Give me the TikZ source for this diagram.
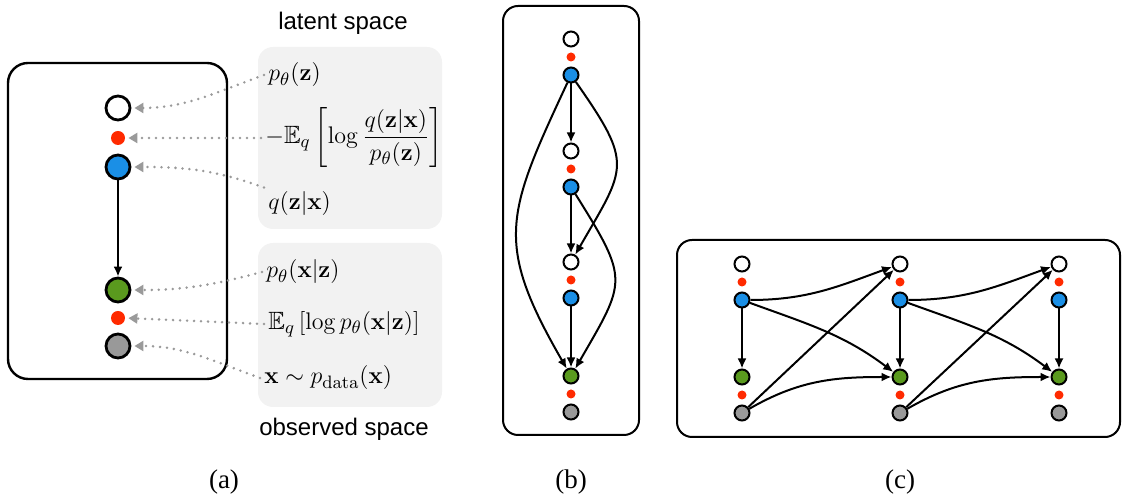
\documentclass[tikz,border=0pt]{standalone}
\usepackage{amssymb}
\usepackage[no-math]{fontspec}
\newfontfamily\labelfont{Liberation Sans}
\newfontfamily\capfont{Liberation Serif}
\usetikzlibrary{arrows.meta}
\definecolor{zblue}{HTML}{1A8FE6}
\definecolor{dotred}{HTML}{FF2A00}
\definecolor{xgreen}{HTML}{5A9A1E}
\definecolor{xgray}{HTML}{999999}
\definecolor{hintgray}{HTML}{9A9A9A}
\definecolor{panelgray}{HTML}{F2F2F2}
\tikzset{
  vert/.style    = {circle, draw=black, line width=1pt, minimum size=7.5pt, inner sep=0pt},
  dot/.style     = {circle, fill=dotred, minimum size=4.5pt, inner sep=0pt},
  bigvert/.style = {vert, line width=1.4pt, minimum size=12pt},
  bigdot/.style  = {dot, minimum size=7pt},
  link/.style    = {-{Latex[length=5pt,width=4.5pt]}, line width=1pt},
  hint/.style    = {-{Triangle[length=4.5pt,width=5pt]}, hintgray, line width=1.4pt,
                    line cap=round, dash pattern=on 0pt off 3.5pt, shorten >=1.5pt},
  frame/.style   = {draw, line width=1.2pt, rounded corners=10pt},
  thinframe/.style = {draw, line width=1pt, rounded corners=7.5pt},
  panel/.style   = {fill=panelgray, rounded corners=7.5pt},
  formula/.style = {anchor=west, inner sep=2pt, font=\fontsize{12.5}{14}\selectfont},
  labeltext/.style = {font=\labelfont\fontsize{12}{14}\selectfont},
  caption/.style = {font=\capfont\fontsize{13.5}{15}\selectfont}
}
% one latent step: prior, kl term, posterior
\newcommand{\latentgroup}[3]{
  \node[vert, fill=white] (#1-prior) at (#2,#3) {};
  \node[dot] (#1-kl) at (#2,#3-18) {};
  \node[vert, fill=zblue] (#1-post) at (#2,#3-36) {};
}
% observed step: likelihood, reconstruction term, data
\newcommand{\observedgroup}[3]{
  \node[vert, fill=xgreen] (#1-lik) at (#2,#3) {};
  \node[dot] (#1-rec) at (#2,#3-18) {};
  \node[vert, fill=xgray] (#1-data) at (#2,#3-36) {};
}

\begin{document}
\begin{tikzpicture}[x=0.5pt, y=0.5pt]
  \useasboundingbox (0,0) rectangle (1122,496);

  % (a)
  \fill[panel] (258,267) rectangle (442,449);
  \fill[panel] (258,89) rectangle (442,253);
  \draw[frame] (8,117) rectangle (227,433);
  \node[bigvert, fill=white] (a-prior) at (118,388) {};
  \node[bigdot] (a-kl) at (118,358) {};
  \node[bigvert, fill=zblue] (a-post) at (118,329) {};
  \node[bigvert, fill=xgreen] (a-lik) at (118,206) {};
  \node[bigdot] (a-rec) at (118,178) {};
  \node[bigvert, fill=xgray] (a-data) at (118,150) {};
  \draw[link] (a-post) -- (a-lik);

  \node[labeltext] (latent) at (343,473) {latent space};
  \node[labeltext] (observed) at (344,67) {observed space};

  \node[formula] (pz) at (264,421) {$p_\theta(\mathbf{z})$};
  \node[formula] (kl) at (261,358) {$-\mathbb{E}_q\left[\log\displaystyle\frac{q(\mathbf{z}|\mathbf{x})}{p_\theta(\mathbf{z})}\right]$};
  \node[formula] (qzx) at (264,292) {$q(\mathbf{z}|\mathbf{x})$};
  \node[formula] (pxz) at (262,224) {$p_\theta(\mathbf{x}|\mathbf{z})$};
  \node[formula] (rec) at (264,172) {$\mathbb{E}_q\left[\log p_\theta(\mathbf{x}|\mathbf{z})\right]$};
  \node[formula] (pdata) at (260,118) {$\mathbf{x}\sim p_{\mathrm{data}}(\mathbf{x})$};

  \draw[hint] (pz.west) to[out=200, in=0] (a-prior.east);
  \draw[hint] (kl.west) -- (a-kl.east);
  \draw[hint] (qzx.north west) to[out=160, in=0] (a-post.east);
  \draw[hint] (pxz.west) to[out=195, in=0] (a-lik.east);
  \draw[hint] (rec.west) -- (a-rec.east);
  \draw[hint] (pdata.west) to[out=160, in=0] (a-data.east);

  % (b)
  \draw[thinframe] (503,61) rectangle (639,490);
  \latentgroup{b1}{571}{457}
  \latentgroup{b2}{571}{345}
  \latentgroup{b3}{571}{234}
  \observedgroup{bo}{571}{120}
  \draw[link] (b1-post) -- (b2-prior);
  \draw[link] (b2-post) -- (b3-prior);
  \draw[link] (b3-post) -- (bo-lik);
  \draw[link] (b1-post) to[out=-55, in=60, looseness=1.5] (b3-prior);
  \draw[link] (b1-post) to[out=-115, in=120, looseness=1.3] (bo-lik);
  \draw[link] (b2-post) to[out=-58, in=60, looseness=1.5] (bo-lik);

  % (c)
  \draw[thinframe] (677,59) rectangle (1120,256);
  \foreach \i/\x in {1/742,2/900,3/1059}{
    \latentgroup{c\i}{\x}{232}
    \observedgroup{c\i}{\x}{119}
    \draw[link] (c\i-post) -- (c\i-lik);
  }
  \foreach \i/\j in {1/2,2/3}{
    \draw[link] (c\i-post) to[out=0, in=200] (c\j-prior);
    \draw[link] (c\i-post) to[out=-20, in=143] (c\j-lik);
    \draw[link] (c\i-data) -- (c\j-prior);
    \draw[link] (c\i-data) to[out=30, in=180] (c\j-lik);
  }

  % captions
  \node[caption] (cap-a) at (224,14) {(a)};
  \node[caption] (cap-b) at (571,14) {(b)};
  \node[caption] (cap-c) at (900,14) {(c)};
\end{tikzpicture}
\end{document}
